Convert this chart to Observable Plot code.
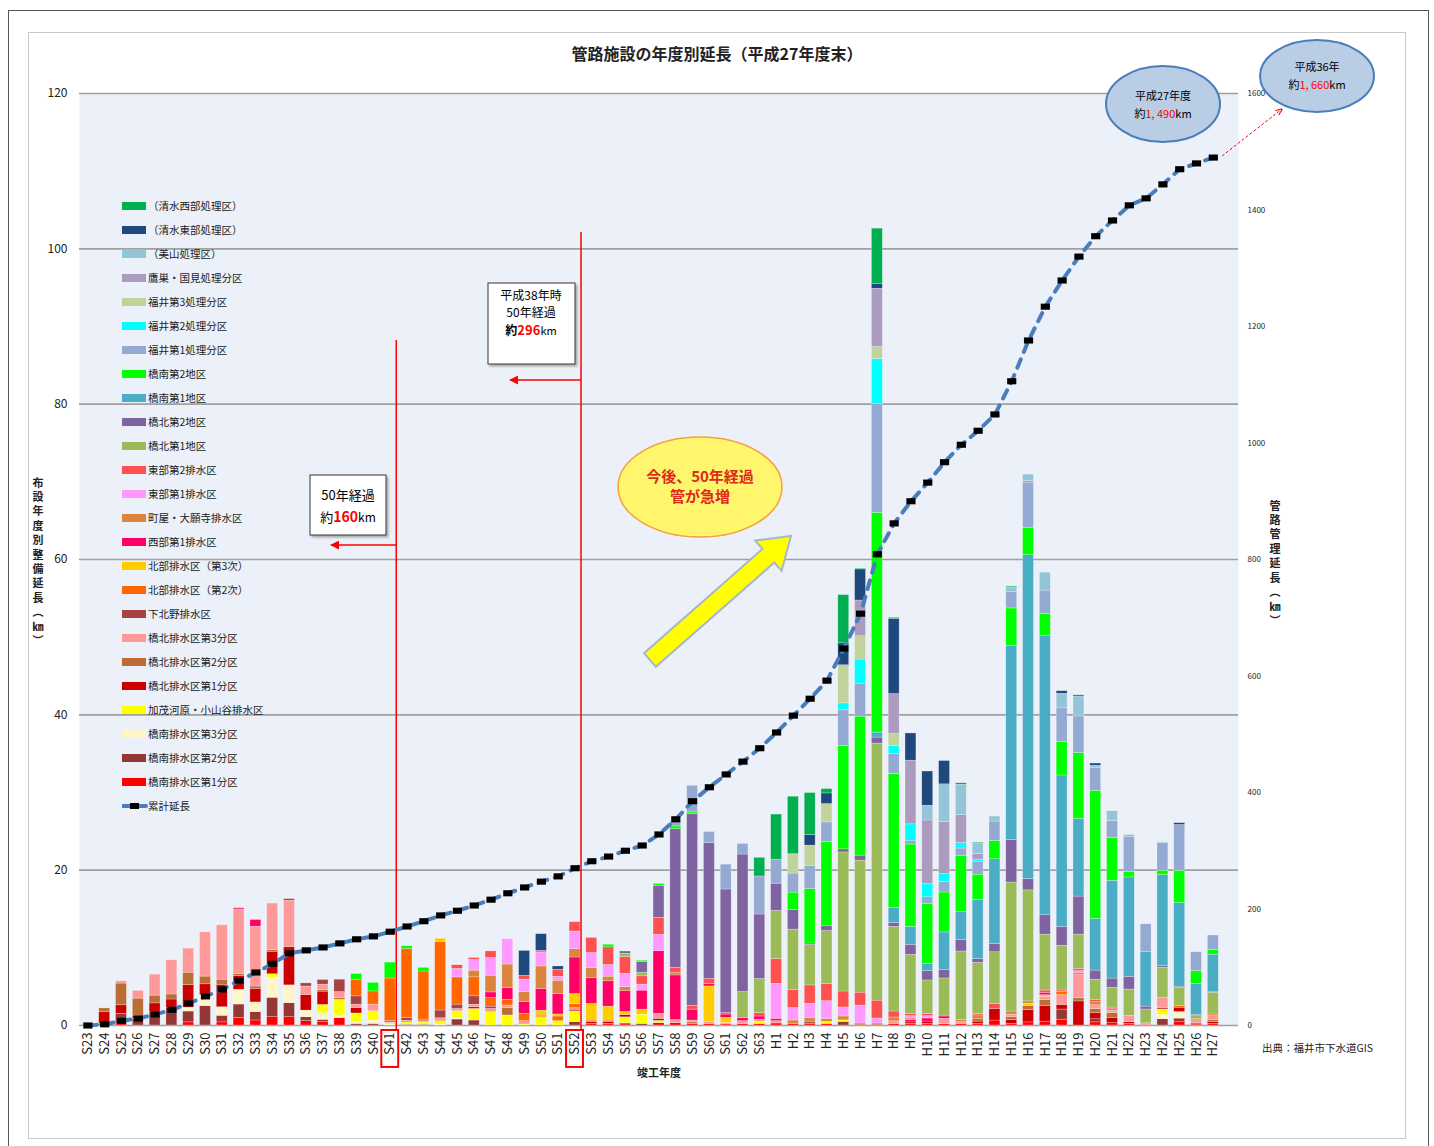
<!DOCTYPE html>
<html><head><meta charset="utf-8">
<script src="https://cdn.jsdelivr.net/npm/d3@7"></script>
<script src="https://cdn.jsdelivr.net/npm/@observablehq/plot@0.6"></script>
<style>
body{margin:0;background:#fff;font-family:"Noto Sans CJK JP","Noto Sans",sans-serif;color:#222;}
#wrap{position:relative;width:1434px;height:1146px;overflow:hidden;}
.abs{position:absolute;}
.vt{position:absolute;writing-mode:vertical-rl;text-orientation:upright;font-size:11px;font-weight:bold;letter-spacing:3.4px;line-height:14px;}
.lg{position:absolute;left:122px;height:16px;font-size:10.5px;line-height:16px;white-space:nowrap;}
.lg .sw{position:absolute;left:0;top:4px;width:24px;height:8px;}
.lg .tx{position:absolute;left:26px;top:0;}
</style></head>
<body><div id="wrap">
<div class="abs" style="left:8px;top:10px;width:1419px;height:1140px;border:1px solid #555;"></div>
<div class="abs" style="left:28px;top:32px;width:1376px;height:1105px;border:1px solid #c8c8c8;"></div>
</div>
<script>
// ---- categories ----
const years = ["S23","S24","S25","S26","S27","S28","S29","S30","S31","S32",
"S33","S34","S35","S36","S37","S38","S39","S40","S41","S42",
"S43","S44","S45","S46","S47","S48","S49","S50","S51","S52",
"S53","S54","S55","S56","S57","S58","S59","S60","S61","S62",
"S63","H1","H2","H3","H4","H5","H6","H7","H8","H9",
"H10","H11","H12","H13","H14","H15","H16","H17","H18","H19",
"H20","H21","H22","H23","H24","H25","H26","H27"];

// ---- series (bottom of stack first) ----
const seriesNames = ["橋南排水区第1分区","橋南排水区第2分区","橋南排水区第3分区","加茂河原・小山谷排水区",
"橋北排水区第1分区","橋北排水区第2分区","橋北排水区第3分区","下北野排水区","北部排水区（第2次）","北部排水区（第3次）",
"西部第1排水区","町屋・大願寺排水区","東部第1排水区","東部第2排水区","橋北第1地区","橋北第2地区","橋南第1地区",
"橋南第2地区","福井第1処理分区","福井第2処理分区","福井第3処理分区","鷹巣・国見処理分区","（美山処理区）","（清水東部処理区）","（清水西部処理区）"];
const seriesColors = ["#ff0000","#953735","#fff5c8","#ffff00","#cc0000","#bb6d35","#ff9999","#a64444","#ff6600","#ffcc00",
"#ff0066","#db843d","#ff99ff","#ff5050","#9bbb59","#8064a2","#4bacc6","#00ff00","#95aad2","#00ffff","#bfd39b","#aa9bbf","#93c4d7","#1f497d","#00b050"];

const v01 = [0,0,0.2,0,0,0,0.4,0,0.4,1.0, 0.65,1.07,1.07,0.56,0.43,0.95,0,0,0,0, 0,0,0,0,0,0,0,0,0,0, 0.2,0.2,0.15,0,0.3,0.3,0.2,0.2,0.14,0.2, 0.2,0.26,0.2,0.2,0.2,0,0,0,0.2,0.2, 0.2,0.16,0.2,0.2,0.64,0.2,0.4,0.5,0.75,0, 0.4,0.3,0.2,0.1,0,0.42,0.13,0.2];
const v02 = [0,0.2,1.3,0.86,1.7,2.25,1.4,2.5,0.85,1.7, 1.07,2.5,1.8,0.5,0.3,0,0.2,0.2,0,0.1, 0.1,0,0.77,0.64,0,0,0,0,0,0.43, 0,0,0.15,0.2,0,0,0,0,0,0, 0,0,0,0.2,0,0.46,0,0,0,0, 0,0,0,0,0,0,0,0,1.3,0, 0.4,0,0,0,0.8,0.47,0,0];
const v03 = [0,0,0,0,0,0,0.5,1.4,1.1,1.9, 1.25,2.6,2.3,0.86,0.86,0.35,0.2,0.43,0.1,0, 0,0.1,0.2,0,0,0,0,0,0,0, 0,0,0,0,0,0,0,0,0,0, 0,0,0,0,0,0,0,0,0,0, 0,0,0,0,0,0,0,0,0,0, 0,0,0,0,0.56,0.84,0,0];
const v04 = [0,0,0,0,0,0,0,0,0,0, 0,0.43,0,0,1.07,2.0,1.15,1.2,0.2,0.3, 0.3,0.5,0.86,1.5,1.7,1.29,0.13,1.07,0.56,1.4, 0,0,0.75,1.2,0.3,0,0,0,0,0, 0.3,0,0,0,0.26,0.2,0,0,0,0, 0,0,0,0,0,0,0,0,0,0, 0,0,0,0,0.7,0,0,0];
const v05 = [0,1.5,1.1,0.4,1.15,1.1,2.9,1.4,2.9,1.75, 1.75,2.9,4.9,2.0,1.7,0,0.7,0,0,0.1, 0,0.13,0,0.2,0,0,0,0,0,0.2, 0.23,0.23,0.3,0,0.26,0,0,0,0,0, 0,0,0,0,0,0,0,0,0,0.2, 0.3,0,0,0.3,1.5,0.5,1.6,2.0,0.6,3.1, 0.8,0.7,0.22,0,0.14,0.56,0,0.27];
const v06 = [0,0.5,2.8,2.2,1.0,0.65,1.6,1.0,0.65,0.3, 0.3,0.2,0,0,0.2,0.2,0,0,0,0, 0,0,0,0,0,0.94,0,0,0,0, 0,0,0,0,0,0,0.2,0,0,0, 0,0,0,0,0,0,0,0,0,0, 0,0,0,0.3,0,0.4,0.5,0.8,0,0.4, 0.5,0.6,0,0,0,0,0.2,0.27];
const v07 = [0,0,0.3,1.0,2.7,4.4,3.1,5.7,7.0,8.3, 7.7,6.0,6.0,1.1,0.7,0.8,0.43,0.86,0.1,0.1, 0.15,0.2,0.3,0.34,0.43,0.34,0.43,0,0,0.2, 0,0,0,0,0.64,0.4,0.24,0.23,0.2,0.36, 0.23,0.3,0,0,0,0,0,0,0.33,0, 0,0.7,0.23,0,0,0.3,0,0.4,1.26,3.0, 0.5,0.3,0.84,0.18,1.4,0,0.47,0.47];
const v08 = [0,0,0,0,0,0,0,0,0,0, 0,0,0.2,0.4,0.6,1.6,1.07,0,0.2,0.35, 0.2,1.0,0.56,1.07,0.3,0,0,0,0,0, 0,0,0,0,0,0,0,0,0,0, 0,0,0,0,0,0,0,0,0,0, 0,0,0,0,0,0,0,0,0,0, 0,0,0,0,0,0,0,0];
const v09 = [0,0,0,0,0,0,0,0,0,0, 0,0,0,0,0,0,2.15,1.7,5.45,8.9, 6.2,8.85,3.5,2.45,1.1,0.73,0.94,0.2,0.6,0.5, 0.2,0.2,0,0,0,0,0,0,0,0, 0,0,0,0,0,0,0,0,0,0, 0,0,0,0,0,0,0,0,0.4,0.2, 0,0,0,0,0,0.23,0,0.2];
const v10 = [0,0,0,0,0,0,0,0,0,0, 0,0,0,0,0,0,0,0,0,0, 0,0.4,0,0,0,0,0,0.64,0.26,1.33, 2.15,1.8,0.4,0.64,0,0,0,4.6,0.64,0, 0,0,0,0,0,0,0,0,0,0, 0,0,0,0,0,0,0.3,0.2,0,0, 0,0,0,0,0,0,0,0];
const v11 = [0,0,0,0,0,0,0,0,0,0.15, 0.86,0,0,0,0,0,0,0,0,0, 0,0,0,0,0.73,1.5,1.5,2.8,2.65,4.7, 3.3,3.26,2.7,2.45,8.07,5.75,1.4,0.34,0.43,0.4, 0.43,0.3,0,0,0,0,0,0,0,0.3, 0.4,0.3,0,0,0,0,0,0.3,0,0, 0,0,0,0,0,0,0,0];
const v12 = [0,0,0,0,0,0,0,0,0,0, 0,0,0,0,0,0,0,0,0,0, 0,0,0,0.86,2.15,3.05,1.3,2.9,1.7,1.07, 1.33,0.6,0.5,0,0,0.3,0,0,0,0, 0,0,0.44,0.6,0.4,0.5,0.26,0.26,0.5,0.2, 0,0,0.3,0.5,0,0.4,0.3,0,0,0, 0.4,0.2,0,0,0,0,0,0];
const v13 = [0,0,0,0,0,0,0,0,0,0, 0,0,0,0,0,0,0,0,0,0, 0,0,1.1,1.37,2.27,3.26,1.6,1.8,0.5,2.27, 1.93,1.5,1.7,0.77,2.1,0,0,0,0,0, 0,4.5,1.6,1.8,2.27,1.16,2.3,0.64,0,0.3, 0.3,0,0,0,0,0,0,0,0,0.3, 0,0,0,0,0,0,0,0];
const v14 = [0,0,0,0,0,0,0,0,0,0, 0,0,0,0,0,0,0,0,0,0, 0,0,0.47,0.26,0.86,0,0.5,0.2,0.9,1.2, 1.93,2.27,2.15,1.07,2.2,0.69,0.5,0.64,0.2,0, 0.43,3.2,2.3,2.36,2.23,2.06,1.67,2.3,0.77,0.3, 0.3,0,0,0.2,0.64,0,0,0.3,0.2,0.3, 0.3,0.2,0,0,0,0,0,0];
const v15 = [0,0,0,0,0,0,0,0,0,0, 0,0,0,0,0,0,0,0,0,0, 0,0,0,0,0,0,0,0,0,0, 0,0,0.43,0.47,0,0,0,0,0,3.35, 4.4,6.2,7.8,5.2,6.8,17.9,17.0,33.1,10.9,7.6, 4.3,4.9,8.8,6.56,6.65,16.6,14.3,7.2,5.75,4.4, 2.6,2.57,3.37,1.78,3.84,2.34,0.42,2.8];
const v16 = [0,0,0,0,0,0,0,0,0,0, 0,0,0,0,0,0,0,0,0,0, 0,0,0,0,0,0,0,0,0,0, 0,0,0.3,1.37,4.1,17.85,24.7,17.5,15.9,17.7, 8.3,3.5,2.5,0.2,0.69,0.4,0.64,0.77,0.5,1.3, 1.2,1.07,1.5,0.5,1.07,5.5,1.45,2.5,2.43,4.9, 1.17,1.17,1.64,0.37,0.23,0.14,0.14,0.14];
const v17 = [0,0,0,0,0,0,0,0,0,0, 0,0,0,0,0,0,0,0,0,0, 0,0,0,0,0,0,0,0,0,0, 0,0,0,0,0,0,0,0,0,0, 0,0,0,0,0,0,0,0.64,1.93,2.3, 0.94,4.85,3.56,7.6,10.9,25.0,41.7,36.0,19.5,10.0, 6.65,12.6,12.8,7.0,11.7,10.76,4.0,4.77];
const v18 = [0,0,0,0,0,0,0,0,0,0, 0,0,0,0,0,0,0.73,1.1,2.05,0.35, 0.47,0,0,0,0,0,0,0,0,0, 0,0.34,0,0.17,0.26,0.34,0.2,0,0,0, 0,0,2.27,7.0,10.8,13.3,17.9,28.3,17.25,10.6, 7.7,5.15,7.2,3.26,2.36,4.8,3.5,2.8,4.3,8.5, 16.5,5.5,0.7,0,0.56,4.16,1.64,0.6];
const v19 = [0,0,0,0,0,0,0,0,0,0, 0,0,0,0,0,0,0,0,0,0, 0,0,0,0,0,0,0,0,0,0, 0,0,0,0,0,0.56,3.43,1.4,3.2,1.37, 4.9,3.1,2.45,3.0,2.5,4.6,4.25,14.0,2.57,0.5, 0.86,1.37,1.0,1.6,2.5,2.1,5.85,3.0,4.35,4.7, 2.9,2.2,4.54,3.6,3.56,5.9,2.43,1.87];
const v20 = [0,0,0,0,0,0,0,0,0,0, 0,0,0,0,0,0,0,0,0,0, 0,0,0,0,0,0,0,0,0,0, 0,0,0,0,0,0,0,0,0,0, 0,0,0,0,0,0.9,3.1,5.8,1.03,2.1, 1.7,1.0,0.7,0.34,0,0,0,0,0,0, 0,0,0,0,0,0,0,0];
const v21 = [0,0,0,0,0,0,0,0,0,0, 0,0,0,0,0,0,0,0,0,0, 0,0,0,0,0,0,0,0,0,0, 0,0,0,0,0,0,0,0,0,0, 0,0,2.5,2.6,2.36,4.9,3.0,1.55,1.55,0, 0,0,0,0,0,0,0,0,0,0, 0,0,0,0,0,0,0,0];
const v22 = [0,0,0,0,0,0,0,0,0,0, 0,0,0,0,0,0,0,0,0,0, 0,0,0,0,0,0,0,0,0,0, 0,0,0,0,0,0,0,0,0,0, 0,0,0,0,0,0,4.6,7.5,5.15,8.2, 8.2,6.7,3.6,0.73,0,0,0.23,0,0,0, 0,0,0,0,0,0,0,0];
const v23 = [0,0,0,0,0,0,0,0,0,0, 0,0,0,0,0,0,0,0,0,0, 0,0,0,0,0,0,0,0,0,0, 0,0,0,0,0,0,0,0,0,0, 0,0,0,0,0,0,0,0,0,0, 1.9,4.85,3.9,1.3,0.64,0.56,0.8,2.3,1.87,2.57, 0.33,1.26,0.23,0,0.1,0,0,0];
const v24 = [0,0,0,0,0,0,0,0,0,0, 0,0,0,0,0,0,0,0,0,0, 0,0,0,0,0,0,3.2,2.15,0.43,0, 0,0,0,0,0,0,0,0,0,0, 0,0,0,1.37,1.37,2.83,4.0,0.64,9.66,3.5, 4.4,3.0,0,0,0,0,0,0,0.33,0.14, 0.28,0,0,0,0,0.23,0,0];
const v25 = [0,0,0,0,0,0,0,0,0,0, 0,0,0,0,0,0,0,0,0,0, 0,0,0,0,0,0,0,0,0,0, 0,0,0,0,0,0,0,0,0,0, 2.4,5.8,7.4,5.4,0.56,6.2,0.1,7.1,0.15,0, 0,0,0.2,0.13,0,0.14,0,0,0,0, 0,0,0,0,0,0,0,0];

// ---- cumulative length (right axis, km) ----
const cumulative = [0,2,8,12,19,27,38,50,62,77,
91,106,124,129,134,141,148,153,161,170,
179,189,197,206,216,227,237,247,256,270,
282,290,300,309,328,354,385,409,431,453,
476,503,532,561,592,647,707,809,862,900,
932,967,997,1021,1049,1106,1176,1234,1279,1320,
1355,1382,1408,1420,1444,1470,1480,1490];

// ---- tick labels ----
const leftTicks = [0,20,40,60,80,100,120];
const rightTicks = [0,200,400,600,800,1000,1200,1400,1600];

const seriesValues = [v01,v02,v03,v04,v05,v06,v07,v08,v09,v10,v11,v12,v13,v14,v15,v16,v17,v18,v19,v20,v21,v22,v23,v24,v25];
const rows = [];
seriesNames.forEach((name, si) => {
  seriesValues[si].forEach((v, i) => { if (v > 0) rows.push({year: years[i], series: name, value: v}); });
});
const k = 120 / 1600;
const cumRows = years.map((y, i) => ({year: y, cum: cumulative[i]}));
const marker = {draw(ctx, size) { const r = Math.sqrt(size / Math.PI); const w = r * 1.35, h = r * 0.9;
  ctx.moveTo(-w, -h); ctx.lineTo(w, -h); ctx.lineTo(w, h); ctx.lineTo(-w, h); ctx.closePath(); }};

const chart = Plot.plot({
  width: 1434, height: 1146,
  marginLeft: 79, marginRight: 196, marginTop: 93, marginBottom: 121,
  style: {background: "transparent", fontFamily: '"Noto Sans CJK JP","Noto Sans",sans-serif', color: "#222", overflow: "visible"},
  x: {type: "band", domain: [...years, " "], paddingInner: 0.35, paddingOuter: 0.175, axis: null, label: null},
  y: {domain: [0, 120], axis: null, label: null},
  color: {domain: seriesNames, range: seriesColors},
  marks: [
    Plot.frame({fill: "#ecf0f8", stroke: "none"}),
    Plot.gridY(leftTicks, {stroke: "#a0a0a0", strokeOpacity: 1, strokeWidth: 1.6}),
    Plot.barY(rows, {x: "year", y: "value", fill: "series", stroke: "#ffffff", strokeWidth: 0.5, strokeOpacity: 0.5}),
    Plot.axisY(leftTicks, {anchor: "left", label: null, tickSize: 0, tickPadding: 12, fontSize: 12}),
    Plot.axisY(rightTicks.map(v => v * k), {anchor: "right", label: null, tickSize: 0, tickPadding: 9, fontSize: 8, tickFormat: d => String(Math.round(d / k))}),
    Plot.axisX(years, {label: null, tickRotate: -90, tickSize: 0, tickPadding: 7, fontSize: 13}),
    Plot.ruleX(["S41"], {y1: -0.7, y2: 88.2, stroke: "red", strokeWidth: 1.5, dx: 6}),
    Plot.ruleX(["S52"], {y1: -0.7, y2: 102.1, stroke: "red", strokeWidth: 1.5, dx: 6}),
    Plot.barY(["S41", "S52"], {x: d => d, y1: () => -0.64, y2: () => -5.4, fill: "none", stroke: "red", strokeWidth: 2, insetLeft: -3, insetRight: -3}),
    Plot.line(cumRows, {x: "year", y: d => d.cum * k, stroke: "#4a7ebb", strokeWidth: 4, strokeDasharray: "9,8", strokeLinecap: "round"}),
    Plot.dot(cumRows, {x: "year", y: d => d.cum * k, symbol: marker, r: 3.4, fill: "black", stroke: "none"})
  ]
});
chart.style.position = "absolute"; chart.style.left = "0px"; chart.style.top = "0px";
const wrap = document.getElementById("wrap");
wrap.appendChild(chart);

// ---- annotations ----
const ann = document.createElement("div");
ann.innerHTML = `<svg width="1434" height="1146" style="position:absolute;left:0;top:0;overflow:visible" font-family='"Noto Sans CJK JP",sans-serif'>
<defs>
<marker id="ah" viewBox="0 0 10 10" refX="9" refY="5" markerWidth="6" markerHeight="6" orient="auto"><path d="M0,0L10,5L0,10z" fill="red"/></marker>
<marker id="ah2" viewBox="0 0 10 10" refX="9" refY="5" markerWidth="7" markerHeight="7" orient="auto"><path d="M0,1L10,5L0,9" fill="none" stroke="red" stroke-width="1.5"/></marker>
<filter id="sh" x="-10%" y="-10%" width="130%" height="130%"><feDropShadow dx="2" dy="2" stdDeviation="1" flood-color="#777" flood-opacity="0.6"/></filter>
</defs>
<rect x="310" y="475" width="76" height="60" fill="#fff" stroke="#333" stroke-width="1" filter="url(#sh)"/>
<text x="348" y="500" text-anchor="middle" font-size="13">50年経過</text>
<text x="348" y="522" text-anchor="middle" font-size="13">約<tspan fill="red" font-weight="bold" font-size="14">160</tspan><tspan font-size="12">km</tspan></text>
<rect x="488" y="283" width="87" height="81" fill="#fff" stroke="#333" stroke-width="1" filter="url(#sh)"/>
<text x="531" y="300" text-anchor="middle" font-size="12">平成38年時</text>
<text x="531" y="317" text-anchor="middle" font-size="12">50年経過</text>
<text x="531" y="335" text-anchor="middle" font-size="12"><tspan font-weight="bold">約</tspan><tspan fill="red" font-weight="bold" font-size="13">296</tspan><tspan font-size="11">km</tspan></text>
<line x1="397" y1="545" x2="331" y2="545" stroke="red" stroke-width="1.5" marker-end="url(#ah)"/>
<line x1="581" y1="380" x2="510" y2="380" stroke="red" stroke-width="1.5" marker-end="url(#ah)"/>
<ellipse cx="700" cy="487" rx="82" ry="50" fill="#fff66e" stroke="#f4a23c" stroke-width="1.5"/>
<text x="700" y="482" text-anchor="middle" font-size="15" font-weight="bold" fill="#dd2a1b">今後、50年経過</text>
<text x="700" y="502" text-anchor="middle" font-size="15" font-weight="bold" fill="#dd2a1b">管が急増</text>
<polygon points="655.9,666.8 774.3,562.5 781.6,570.8 791,536 755.2,540.6 762.5,548.9 644.1,653.2" fill="#ffff00" stroke="#a9b6c8" stroke-width="2"/>
<ellipse cx="1163" cy="104" rx="57" ry="38" fill="#b9cde5" stroke="#4a7ebb" stroke-width="2"/>
<text x="1163" y="100" text-anchor="middle" font-size="11">平成27年度</text>
<text x="1163" y="118" text-anchor="middle" font-size="11">約<tspan fill="red">1, 490</tspan>km</text>
<ellipse cx="1317" cy="76" rx="57" ry="36" fill="#b9cde5" stroke="#4a7ebb" stroke-width="2"/>
<text x="1317" y="71" text-anchor="middle" font-size="11">平成36年</text>
<text x="1317" y="89" text-anchor="middle" font-size="11">約<tspan fill="red">1, 660</tspan>km</text>
<line x1="1222" y1="156" x2="1282" y2="109" stroke="red" stroke-width="1" stroke-dasharray="3,2" marker-end="url(#ah2)"/>
</svg>`;
wrap.appendChild(ann);

// ---- titles ----
function addDiv(html, css, cls) { const d = document.createElement("div"); d.className = cls || "abs"; d.style.cssText += css; d.innerHTML = html; wrap.appendChild(d); return d; }
addDiv("管路施設の年度別延長（平成27年度末）", "left:0;width:1434px;top:42px;text-align:center;font-size:16px;font-weight:bold;line-height:22px;");
addDiv("布設年度別整備延長（㎞）", "left:31px;top:477px;", "vt");
addDiv("管路管理延長（㎞）", "left:1268px;top:500px;", "vt");
addDiv("竣工年度", "left:629px;width:60px;top:1064px;text-align:center;font-size:11px;font-weight:bold;line-height:16px;");
addDiv("出典：福井市下水道GIS", "left:1262px;top:1040px;font-size:10.5px;line-height:16px;");

// ---- legend ----
const legendNames = seriesNames.slice().reverse();
const legendColors = seriesColors.slice().reverse();
legendNames.forEach((n, i) => {
  addDiv(`<div class="sw" style="background:${legendColors[i]}"></div><div class="tx">${n}</div>`, `top:${198 + 24 * i}px;`, "lg");
});
addDiv(`<svg width="26" height="16" style="position:absolute;left:0;top:0"><line x1="1" y1="8" x2="24" y2="8" stroke="#4a7ebb" stroke-width="4" stroke-linecap="round"/><rect x="8" y="5" width="9" height="6" fill="black"/></svg><div class="tx">累計延長</div>`, `top:${198 + 24 * 25}px;`, "lg");
</script>
</body></html>
